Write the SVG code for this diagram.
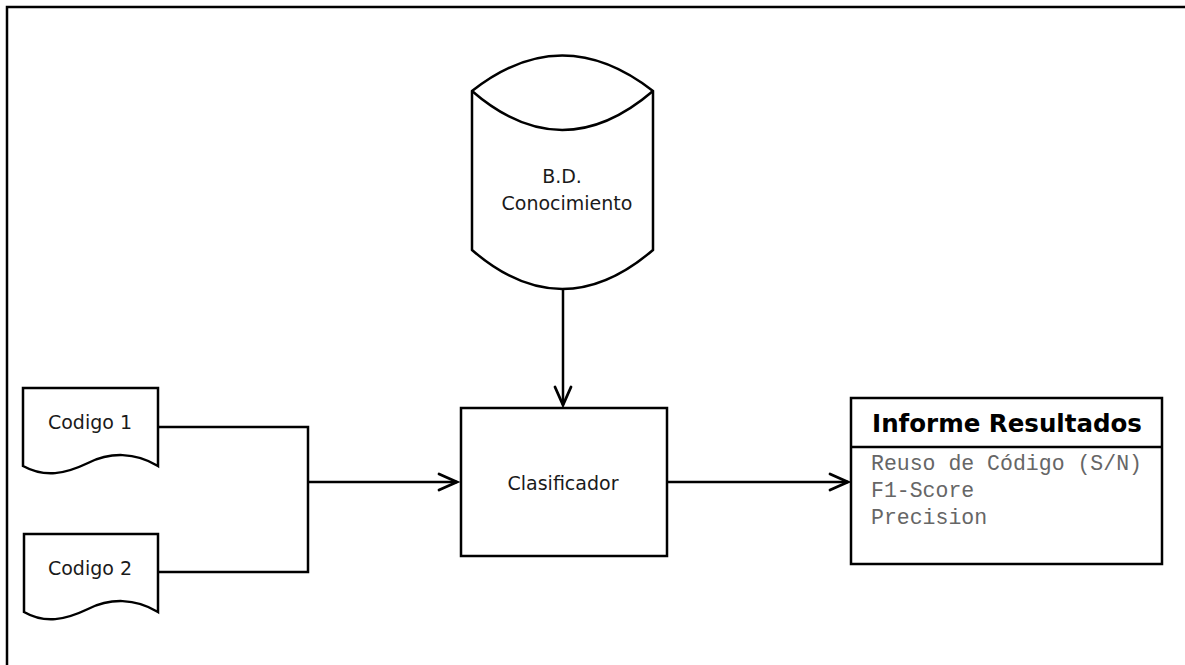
<svg xmlns="http://www.w3.org/2000/svg" width="1185" height="665" viewBox="0 0 1185 665">
  <style>
    .shape { fill: #ffffff; stroke: #000000; stroke-width: 2.5; }
    .line { fill: none; stroke: #000000; stroke-width: 2.5; }
    .head { fill: none; stroke: #000000; stroke-width: 2.8; stroke-linecap: round; stroke-linejoin: miter; }
    .label { font-family: "DejaVu Sans", Verdana, sans-serif; font-size: 19px; fill: #1a1a1a; }
    .title { font-family: "DejaVu Sans", Verdana, sans-serif; font-size: 24.5px; font-weight: bold; fill: #000000; }
    .mono { font-family: "Liberation Mono", "Courier New", monospace; font-size: 21.5px; fill: #666666; }
  </style>

  <rect width="1185" height="665" fill="#ffffff"/>
  <!-- outer frame (only top and left edges fall inside the canvas) -->
  <path class="line" d="M7,667 V7 H1187"/>

  <!-- knowledge base cylinder -->
  <g id="bd-conocimiento">
    <path class="shape" d="M472,91 Q562,20 653,91 V250 Q562,328 472,250 Z"/>
    <path class="line" d="M472,91 Q562,169 653,91"/>
    <text class="label" x="562" y="183" text-anchor="middle">B.D.</text>
    <text class="label" x="567" y="210" text-anchor="middle">Conocimiento</text>
  </g>

  <!-- input documents -->
  <g id="codigo-1">
    <path class="shape" d="M23,388 H158 V466 C135,452 110,452 88,463 C65,474 45,478 23,466 Z"/>
    <text class="label" x="90" y="429" text-anchor="middle">Codigo 1</text>
  </g>
  <g id="codigo-2">
    <path class="shape" d="M24,534 H158 V612 C135,598 110,598 88,609 C65,620 45,624 24,612 Z"/>
    <text class="label" x="90" y="575" text-anchor="middle">Codigo 2</text>
  </g>

  <!-- classifier -->
  <g id="clasificador">
    <rect class="shape" x="461" y="408" width="206" height="148"/>
    <text class="label" x="563" y="490" text-anchor="middle">Clasificador</text>
  </g>

  <!-- results report -->
  <g id="informe-resultados">
    <rect class="shape" x="851" y="398" width="311" height="166"/>
    <line class="line" x1="851" y1="447" x2="1162" y2="447"/>
    <text class="title" x="1007" y="432" text-anchor="middle">Informe Resultados</text>
    <text class="mono" x="871" y="470">Reuso de Código (S/N)</text>
    <text class="mono" x="871" y="497">F1-Score</text>
    <text class="mono" x="871" y="524">Precision</text>
  </g>

  <!-- connectors -->
  <g id="connectors">
    <path class="line" d="M158,427 H308 V572 H158"/>
    <path class="line" d="M308,482 H457"/>
    <path class="head" d="M439,474 L457,482 L439,490"/>
    <path class="line" d="M563,289 V405"/>
    <path class="head" d="M555,387 L563,405 L571,387"/>
    <path class="line" d="M667,482 H848"/>
    <path class="head" d="M830,474 L848,482 L830,490"/>
  </g>
</svg>
